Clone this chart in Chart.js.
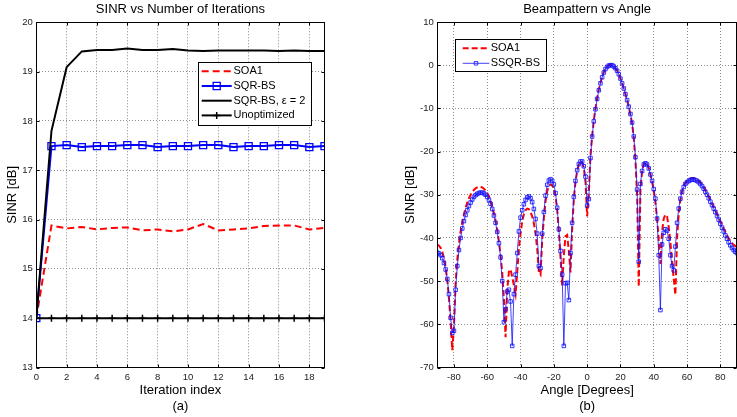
<!DOCTYPE html>
<html>
<head>
<meta charset="utf-8">
<script src="https://cdn.jsdelivr.net/npm/chart.js@4.4.0/dist/chart.umd.min.js"></script>
<style>
  html, body { margin: 0; padding: 0; background: #fff; overflow: hidden; }
  #wrap { position: relative; width: 737px; height: 417px; }
  #left { position: absolute; left: 0; top: 0; }
  #right { position: absolute; left: 370px; top: 0; }
</style>
</head>
<body>
<div id="wrap">
  <canvas id="left" width="370" height="417"></canvas>
  <canvas id="right" width="367" height="417"></canvas>
</div>
<script>
// ---- (a) SINR vs number of iterations ----
const iterations = [0, 1, 2, 3, 4, 5, 6, 7, 8, 9, 10, 11, 12, 13, 14, 15, 16, 17, 18, 19];
const soa1Iter = [14, 15.88, 15.82, 15.85, 15.80, 15.83, 15.84, 15.78, 15.80, 15.76,
                  15.80, 15.91, 15.78, 15.80, 15.82, 15.87, 15.88, 15.88, 15.80, 15.83];
const sqrbsIter = [14, 17.49, 17.51, 17.47, 17.49, 17.49, 17.51, 17.51, 17.47, 17.49,
                   17.49, 17.51, 17.51, 17.47, 17.49, 17.49, 17.51, 17.51, 17.47, 17.49];
const sqrbsEpsIter = [14, 17.8, 19.09, 19.41, 19.44, 19.44, 19.47, 19.44, 19.44, 19.46,
                      19.43, 19.42, 19.43, 19.43, 19.43, 19.43, 19.42, 19.43, 19.42, 19.42];
const unoptIter = [14, 14, 14, 14, 14, 14, 14, 14, 14, 14, 14, 14, 14, 14, 14, 14, 14, 14, 14, 14];
const iterTicks = [0, 2, 4, 6, 8, 10, 12, 14, 16, 18];
const sinrTicks = [13, 14, 15, 16, 17, 18, 19, 20];

// ---- (b) beampattern vs angle ----
const angles = [
  -90, -89, -88, -87, -86, -85, -84, -83, -82, -81,
  -80, -79, -78, -77, -76, -75, -74, -73, -72, -71,
  -70, -69, -68, -67, -66, -65, -64, -63, -62, -61,
  -60, -59, -58, -57, -56, -55, -54, -53, -52, -51,
  -50, -49, -48, -47, -46, -45, -44, -43, -42, -41,
  -40, -39, -38, -37, -36, -35, -34, -33, -32, -31,
  -30, -29, -28, -27, -26, -25, -24, -23, -22, -21,
  -20, -19, -18, -17, -16, -15, -14, -13, -12, -11,
  -10, -9, -8, -7, -6, -5, -4, -3, -2, -1,
  0, 1, 2, 3, 4, 5, 6, 7, 8, 9,
  10, 11, 12, 13, 14, 15, 16, 17, 18, 19,
  20, 21, 22, 23, 24, 25, 26, 27, 28, 29,
  30, 31, 32, 33, 34, 35, 36, 37, 38, 39,
  40, 41, 42, 43, 44, 45, 46, 47, 48, 49,
  50, 51, 52, 53, 54, 55, 56, 57, 58, 59,
  60, 61, 62, 63, 64, 65, 66, 67, 68, 69,
  70, 71, 72, 73, 74, 75, 76, 77, 78, 79,
  80, 81, 82, 83, 84, 85, 86, 87, 88, 89,
  90];
const soa1Beam = [
  -41.5, -41.8, -42.3, -43.2, -44.6, -46.8, -49.8, -54.0, -59.5, -66.0,
  -60.5, -50.5, -45.0, -41.3, -38.5, -36.3, -34.5, -33.0, -31.8, -30.8,
  -30.0, -29.4, -28.9, -28.5, -28.3, -28.2, -28.2, -28.3, -28.6, -29.0,
  -29.6, -30.4, -31.4, -32.7, -34.2, -36.0, -38.2, -40.8, -44.0, -48.0,
  -54.0, -63.0, -52.0, -47.8, -47.3, -49.0, -51.0, -53.0, -48.0, -42.5,
  -39.0, -36.2, -34.5, -33.6, -33.2, -33.3, -34.0, -35.0, -36.6, -39.0,
  -42.5, -48.0, -48.5, -40.5, -35.5, -31.5, -29.2, -28.0, -27.6, -27.8,
  -28.6, -30.3, -33.5, -38.5, -44.5, -51.0, -44.0, -39.6, -39.3, -43.0,
  -48.0, -38.0, -31.0, -27.0, -24.5, -23.0, -22.4, -22.5, -23.8, -27.0,
  -35.0, -29.5, -21.0, -16.3, -12.8, -10.0, -7.6, -5.6, -4.0, -2.7,
  -1.6, -0.8, -0.3, 0.0, 0.1, 0.0, -0.3, -0.7, -1.3, -2.1,
  -3.1, -4.2, -5.4, -6.7, -8.1, -9.7, -11.5, -13.5, -16.8, -22.0,
  -30.0, -51.3, -29.0, -24.5, -22.8, -22.5, -22.8, -23.8, -25.3, -27.0,
  -29.0, -31.8, -35.5, -40.5, -46.0, -38.5, -35.5, -34.6, -35.0, -37.5,
  -41.0, -45.5, -49.5, -53.2, -40.0, -34.5, -31.2, -29.2, -28.0, -27.2,
  -26.7, -26.4, -26.2, -26.1, -26.1, -26.2, -26.4, -26.7, -27.1, -27.6,
  -28.2, -28.9, -29.6, -30.4, -31.2, -32.0, -32.8, -33.6, -34.4, -35.3,
  -36.1, -37.0, -37.8, -38.6, -39.4, -40.1, -40.7, -41.2, -41.6, -41.9,
  -42.2];
const ssqrBeam = [
  -43.4, -43.6, -44.0, -44.7, -45.8, -47.3, -49.5, -53.0, -58.5, -62.0,
  -61.5, -52.0, -46.5, -42.8, -40.0, -37.8, -36.1, -34.7, -33.6, -32.6,
  -31.8, -31.1, -30.5, -30.1, -29.8, -29.6, -29.5, -29.5, -29.7, -30.0,
  -30.5, -31.2, -32.1, -33.3, -34.8, -36.5, -38.6, -41.2, -44.5, -50.0,
  -59.5, -56.5, -52.4, -52.0, -54.7, -65.0, -53.0, -48.5, -43.5, -38.5,
  -35.3, -33.6, -32.2, -31.2, -30.6, -30.4, -30.8, -31.7, -33.3, -35.6,
  -39.0, -46.5, -47.0, -39.0, -34.0, -30.2, -27.7, -26.7, -26.4, -26.8,
  -27.6, -29.6, -33.0, -38.0, -43.0, -48.5, -65.0, -50.5, -50.4, -54.4,
  -43.5, -36.5, -30.5, -26.8, -24.3, -22.9, -22.3, -22.3, -23.4, -25.8,
  -32.5, -31.0, -21.5, -16.5, -13.0, -10.2, -7.8, -5.8, -4.2, -2.8,
  -1.7, -0.9, -0.4, -0.1, 0.0, 0.0, -0.3, -0.7, -1.3, -2.1,
  -3.1, -4.2, -5.4, -6.7, -8.1, -9.6, -11.3, -13.3, -16.5, -21.3,
  -28.8, -45.5, -27.5, -24.5, -23.0, -22.7, -23.0, -23.9, -25.3, -26.8,
  -28.7, -30.9, -35.5, -44.0, -56.7, -41.5, -38.8, -38.0, -38.3, -40.2,
  -44.0, -46.5, -47.5, -42.0, -36.5, -33.2, -30.9, -29.3, -28.2, -27.5,
  -27.1, -26.8, -26.6, -26.5, -26.5, -26.6, -26.8, -27.1, -27.5, -28.0,
  -28.6, -29.3, -30.0, -30.8, -31.6, -32.4, -33.2, -34.0, -34.9, -35.8,
  -36.7, -37.6, -38.5, -39.4, -40.2, -41.0, -41.7, -42.3, -42.8, -43.2,
  -43.5];
const angleTicks = [-80, -60, -40, -20, 0, 20, 40, 60, 80];
const beamTicks = [-70, -60, -50, -40, -30, -20, -10, 0, 10];

const FONT = "'Liberation Sans', Arial, Helvetica, sans-serif";

function pts(xs, ys) {
  return xs.map((x, i) => ({ x: x, y: ys[i] }));
}

// draws the Matlab style box, inner tick marks, title and legend
const framePlugin = {
  id: 'frame',
  afterDraw(chart, args, opts) {
    const { ctx, chartArea: a, scales } = chart;
    const L = Math.round(a.left) + 0.5, R = Math.round(a.right) - 0.5;
    const T = Math.round(a.top) + 0.5, B = Math.round(a.bottom) - 0.5;
    ctx.save();
    ctx.strokeStyle = '#000';
    ctx.lineWidth = 1;
    ctx.setLineDash([]);
    ctx.strokeRect(L, T, R - L, B - T);
    ctx.beginPath();
    scales.x.ticks.forEach(t => {
      const px = Math.round(scales.x.getPixelForValue(t.value)) + 0.5;
      ctx.moveTo(px, B); ctx.lineTo(px, B - 3);
      ctx.moveTo(px, T); ctx.lineTo(px, T + 3);
    });
    scales.y.ticks.forEach(t => {
      const py = Math.round(scales.y.getPixelForValue(t.value)) + 0.5;
      ctx.moveTo(L, py); ctx.lineTo(L + 3, py);
      ctx.moveTo(R, py); ctx.lineTo(R - 3, py);
    });
    ctx.stroke();

    // title
    ctx.fillStyle = '#000';
    ctx.font = '13px ' + FONT;
    ctx.textAlign = 'center';
    ctx.textBaseline = 'middle';
    ctx.fillText(opts.title, (a.left + a.right) / 2, 9.5);

    // legend
    const lg = opts.legend;
    ctx.fillStyle = '#fff';
    ctx.fillRect(lg.x, lg.y, lg.w, lg.h);
    ctx.strokeStyle = '#000';
    ctx.strokeRect(Math.round(lg.x) + 0.5, Math.round(lg.y) + 0.5, Math.round(lg.w), Math.round(lg.h));
    ctx.font = '11px ' + FONT;
    ctx.textAlign = 'left';
    chart.data.datasets.forEach((ds, i) => {
      const y = lg.row0 + i * lg.rowH;
      ctx.save();
      ctx.strokeStyle = ds.borderColor;
      ctx.lineWidth = ds.borderWidth;
      ctx.setLineDash(ds.borderDash || []);
      ctx.beginPath();
      ctx.moveTo(lg.x0, y); ctx.lineTo(lg.x1, y);
      ctx.stroke();
      ctx.setLineDash([]);
      if (ds.pointRadius > 0) {
        const cx = (lg.x0 + lg.x1) / 2;
        ctx.lineWidth = ds.pointBorderWidth;
        ctx.strokeStyle = ds.pointBorderColor;
        ctx.beginPath();
        if (ds.pointStyle === 'rect') {
          const s = ds.pointRadius * Math.SQRT1_2;
          ctx.rect(cx - s, y - s, 2 * s, 2 * s);
        } else {
          const r = ds.pointRadius;
          ctx.moveTo(cx - r, y); ctx.lineTo(cx + r, y);
          ctx.moveTo(cx, y - r); ctx.lineTo(cx, y + r);
        }
        ctx.stroke();
      }
      ctx.restore();
      ctx.fillStyle = '#000';
      ctx.fillText(ds.label, lg.tx, y);
    });
    ctx.restore();
  }
};

function axisX(min, max, ticks, titleLines) {
  return {
    type: 'linear', min: min, max: max,
    afterBuildTicks: s => { s.ticks = ticks.map(v => ({ value: v })); },
    afterFit: s => { s.height = 49.5; s.paddingLeft = 0; s.paddingRight = 0; },
    grid: { color: '#8a8a8a', lineWidth: 1, drawTicks: false },
    border: { display: false, dash: [1, 2] },
    ticks: { font: { family: FONT, size: 9.5 }, color: '#222', padding: 4, maxRotation: 0, autoSkip: false },
    title: { display: true, text: titleLines, color: '#000', font: { family: FONT, size: 13 },
             padding: { top: 0, bottom: 3.2 } }
  };
}

function axisY(min, max, ticks, width, titlePad) {
  return {
    type: 'linear', min: min, max: max,
    afterBuildTicks: s => { s.ticks = ticks.map(v => ({ value: v })); },
    afterFit: s => { s.width = width; s.paddingTop = 0; s.paddingBottom = 0; },
    grid: { color: '#8a8a8a', lineWidth: 1, drawTicks: false },
    border: { display: false, dash: [1, 2] },
    ticks: { font: { family: FONT, size: 9.5 }, color: '#222', padding: 3.5, autoSkip: false },
    title: { display: true, text: 'SINR [dB]', color: '#000', font: { family: FONT, size: 13 },
             padding: { top: titlePad, bottom: 0 } }
  };
}

new Chart(document.getElementById('left'), {
  type: 'line',
  data: {
    datasets: [
      { label: 'SOA1', data: pts(iterations, soa1Iter), borderColor: '#ff0000', borderWidth: 2,
        borderDash: [7, 4], pointRadius: 0, order: 4 },
      { label: 'SQR-BS', data: pts(iterations, sqrbsIter), borderColor: '#0000ff', borderWidth: 2,
        pointStyle: 'rect', pointRadius: 5, pointBorderWidth: 1.3, pointBorderColor: '#0000ff',
        pointBackgroundColor: 'rgba(0,0,0,0)', order: 3 },
      { label: 'SQR-BS, ε = 2', data: pts(iterations, sqrbsEpsIter), borderColor: '#000', borderWidth: 2,
        pointRadius: 0, order: 2 },
      { label: 'Unoptimized', data: pts(iterations, unoptIter), borderColor: '#000', borderWidth: 2,
        pointStyle: 'cross', pointRadius: 3.5, pointBorderWidth: 1.5, pointBorderColor: '#000', order: 1 }
    ]
  },
  options: {
    responsive: false, animation: false, devicePixelRatio: 1,
    layout: { autoPadding: false, padding: { top: 22.3, right: 45.5, bottom: 0, left: 0 } },
    plugins: {
      legend: { display: false }, tooltip: { enabled: false },
      frame: {
        title: 'SINR vs Number of Iterations',
        legend: { x: 198.3, y: 61.7, w: 113.4, h: 63.3, row0: 71.3, rowH: 14.7, x0: 201.7, x1: 231.7, tx: 233.5 }
      }
    },
    scales: {
      x: axisX(0, 19, iterTicks, ['Iteration index', '(a)']),
      y: axisY(13, 20, sinrTicks, 36.3, 4.5)
    }
  },
  plugins: [framePlugin]
});

new Chart(document.getElementById('right'), {
  type: 'line',
  data: {
    datasets: [
      { label: 'SOA1', data: pts(angles, soa1Beam), borderColor: '#ff0000', borderWidth: 2,
        borderDash: [6, 3], pointRadius: 0, order: 2 },
      { label: 'SSQR-BS', data: pts(angles, ssqrBeam), borderColor: 'rgba(20,20,255,0.8)', borderWidth: 1,
        pointStyle: 'rect', pointRadius: 2.5, pointBorderWidth: 1, pointBorderColor: 'rgba(20,20,255,0.85)',
        pointBackgroundColor: 'rgba(0,0,0,0)', order: 1 }
    ]
  },
  options: {
    responsive: false, animation: false, devicePixelRatio: 1,
    layout: { autoPadding: false, padding: { top: 22, right: 0, bottom: 0, left: 0 } },
    plugins: {
      legend: { display: false }, tooltip: { enabled: false },
      frame: {
        title: 'Beampattern vs Angle',
        legend: { x: 85.3, y: 39.3, w: 91.4, h: 32.4, row0: 48.3, rowH: 15, x0: 92.7, x1: 119.3, tx: 120.7 }
      }
    },
    scales: {
      x: axisX(-90, 90, angleTicks, ['Angle [Degrees]', '(b)']),
      y: axisY(-70, 10, beamTicks, 67.3, 33)
    }
  },
  plugins: [framePlugin]
});
</script>
</body>
</html>
